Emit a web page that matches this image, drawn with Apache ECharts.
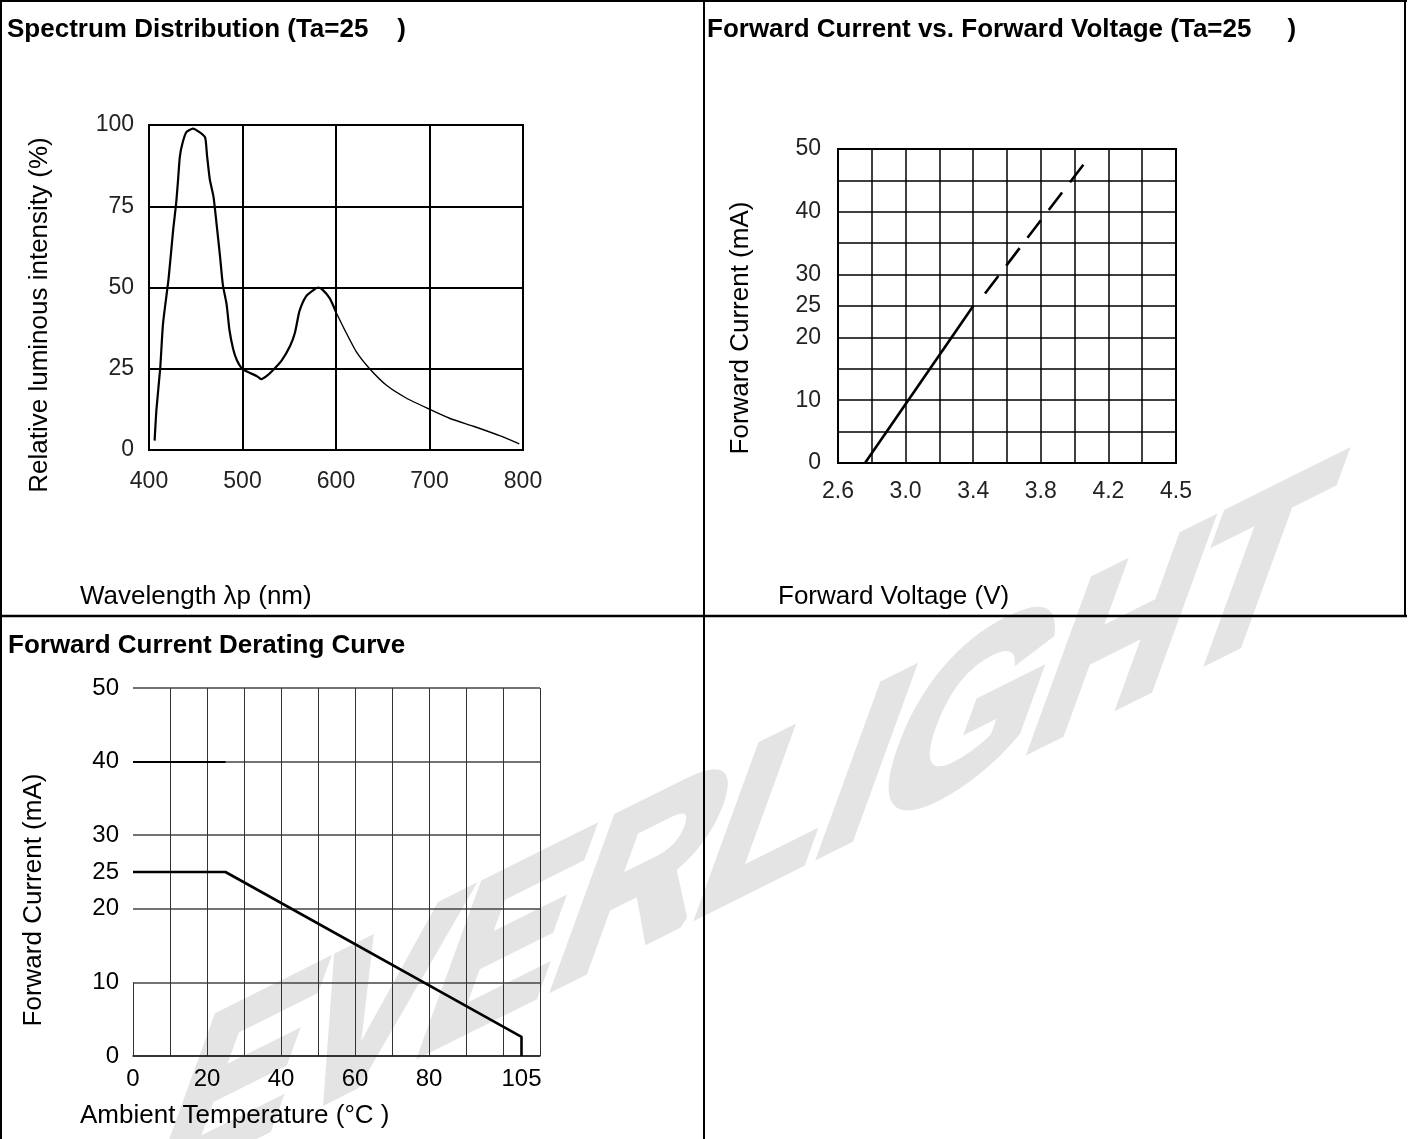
<!DOCTYPE html>
<html><head><meta charset="utf-8">
<script src="https://cdn.jsdelivr.net/npm/echarts@6/dist/echarts.min.js"></script>
<style>html,body{margin:0;padding:0;background:#fff}#c{width:1409px;height:1139px}</style>
</head><body><div id="c"></div><script>
// ---- data ----
const spectrumWavelength = [406, 408, 412, 415, 421, 426, 429, 431, 433, 436, 440, 447, 454, 460, 462, 465, 469, 472, 476, 479, 483, 486, 490, 494, 499, 504, 515, 520, 526, 533, 542, 551, 556, 561, 568, 576, 581, 586, 593, 600, 611, 622, 636, 654, 675, 698, 722, 747, 775, 796];
const spectrumIntensity = [2.9, 12.6, 25.2, 38.9, 52.9, 68.2, 75.8, 82.8, 90.3, 94.6, 97.8, 98.9, 97.8, 96.2, 90.8, 83.3, 77.9, 70.3, 59.5, 50.8, 44.8, 37.0, 31.1, 27.6, 25.2, 24.2, 22.8, 21.8, 22.8, 24.7, 27.6, 32.1, 36.0, 42.8, 47.3, 49.2, 50.0, 49.2, 46.8, 42.4, 36.0, 30.1, 25.0, 19.9, 16.0, 12.8, 9.7, 7.3, 4.4, 1.9];

const ivSolidVoltage = [2.76, 3.40];
const ivSolidCurrent = [0, 25];
const ivDashVoltage = [3.47, 4.08];
const ivDashCurrent = [27, 48.5];
const ivXTickValues = [2.6, 3.0, 3.4, 3.8, 4.2, 4.6];
const ivXTickLabels = ['2.6', '3.0', '3.4', '3.8', '4.2', '4.5'];
const ivYTickValues = [0, 10, 20, 25, 30, 40, 50];

const deratingTemp = [0, 25, 105, 105];
const deratingCurrent = [25, 25, 2.6, 0];
const deratingXTickValues = [0, 20, 40, 60, 80, 105];
const deratingYTickValues = [0, 10, 20, 25, 30, 40, 50];

// ---- helpers ----
const FONT = "'Liberation Sans', Arial, sans-serif";
function pairs(xs, ys) { return xs.map((x, i) => [x, ys[i]]); }
const spectrumPoints = pairs(spectrumWavelength, spectrumIntensity);
const splitIdx = spectrumWavelength.indexOf(600);

function shearedText(x, y, alphaDeg, betaDeg, a, b, fontSize, text, color, strokeW) {
  const al = alphaDeg * Math.PI / 180, be = betaDeg * Math.PI / 180;
  const p = a * Math.cos(al), r = -a * Math.sin(al);
  const q = -b * Math.cos(be), s = b * Math.sin(be);
  const E = (p + s) / 2, F = (p - s) / 2, G = (r + q) / 2, H = (r - q) / 2;
  const Q = Math.hypot(E, H), R = Math.hypot(F, G);
  const sx = Q + R, sy = Q - R;
  const a1 = Math.atan2(G, F), a2 = Math.atan2(H, E);
  const theta = (a2 - a1) / 2, phi = (a2 + a1) / 2;
  return {
    type: 'group', x: x, y: y, rotation: -phi, scaleX: sx, scaleY: sy, z: 1, silent: true,
    children: [{
      type: 'text', rotation: -theta, z: 1,
      style: { text: text, fontSize: fontSize, fontWeight: 'bold', fontFamily: FONT, fill: color,
        stroke: color, lineWidth: strokeW, lineJoin: 'miter', align: 'left', verticalAlign: 'bottom' }
    }]
  };
}

function label(text, x, y) {
  return {
    type: 'text', x: x, y: y, z: 10,
    style: { text: text, fontSize: 26, fontFamily: FONT, fill: '#000', align: 'left', verticalAlign: 'middle' }
  };
}
function vlabel(text, x, y) {
  return {
    type: 'text', x: x, y: y, rotation: Math.PI / 2, z: 10,
    style: { text: text, fontSize: 26, fontFamily: FONT, fill: '#000', align: 'center', verticalAlign: 'middle' }
  };
}
function hline(x1, x2, y, w) { return { type: 'line', z: 10, shape: { x1: x1, y1: y, x2: x2, y2: y }, style: { stroke: '#000', lineWidth: w } }; }
function vline(x, y1, y2, w) { return { type: 'line', z: 10, shape: { x1: x, y1: y1, x2: x, y2: y2 }, style: { stroke: '#000', lineWidth: w } }; }

const tickFont = { fontFamily: FONT, color: '#222', fontSize: 23 };

const chart = echarts.init(document.getElementById('c'), null, { renderer: 'canvas' });
const option = {
  animation: false,
  backgroundColor: '#fff',
  title: [
    { text: 'Spectrum Distribution (Ta=25    )', left: 7, top: 17, padding: 0, textStyle: { fontSize: 26, fontWeight: 'bold', fontFamily: FONT, color: '#000' } },
    { text: 'Forward Current vs. Forward Voltage (Ta=25     )', left: 707, top: 17, padding: 0, textStyle: { fontSize: 26, fontWeight: 'bold', fontFamily: FONT, color: '#000' } },
    { text: 'Forward Current Derating Curve', left: 8, top: 633, padding: 0, textStyle: { fontSize: 26, fontWeight: 'bold', fontFamily: FONT, color: '#000' } }
  ],
  grid: [
    { left: 149, top: 125, width: 374, height: 325, show: true, borderColor: '#000', borderWidth: 2, backgroundColor: 'transparent', z: 4, outerBoundsMode: 'none' },
    { left: 838, top: 149, width: 338, height: 314, show: true, borderColor: '#000', borderWidth: 2, backgroundColor: 'transparent', z: 4, outerBoundsMode: 'none' },
    { left: 133, top: 688, width: 407, height: 368, show: false, z: 4, outerBoundsMode: 'none' }
  ],
  xAxis: [
    { type: 'value', gridIndex: 0, min: 400, max: 800, interval: 100, z: 5,
      axisLine: { show: true, lineStyle: { color: '#000', width: 2 } }, axisTick: { show: false },
      splitLine: { show: true, lineStyle: { color: '#000', width: 2 } },
      axisLabel: Object.assign({ margin: 20 }, tickFont) },
    { type: 'value', gridIndex: 1, min: 2.6, max: 4.6, interval: 0.2, z: 5,
      axisLine: { show: true, lineStyle: { color: '#000', width: 2 } }, axisTick: { show: false },
      splitLine: { show: true, lineStyle: { color: '#000', width: 1.5 } },
      axisLabel: Object.assign({ margin: 17, customValues: ivXTickValues,
        formatter: v => { const i = ivXTickValues.findIndex(t => Math.abs(t - v) < 1e-6); return i >= 0 ? ivXTickLabels[i] : ''; } }, tickFont) },
    { type: 'value', gridIndex: 2, min: 0, max: 110, interval: 10, z: 5,
      axisLine: { show: true, lineStyle: { color: '#222', width: 1.5 } }, axisTick: { show: false },
      splitLine: { show: true, showMinLine: false, lineStyle: { color: '#333', width: 1 } },
      axisLabel: { margin: 11, customValues: deratingXTickValues, fontFamily: FONT, color: '#000', fontSize: 24 } }
  ],
  yAxis: [
    { type: 'value', gridIndex: 0, min: 0, max: 100, interval: 25, z: 5,
      axisLine: { show: true, lineStyle: { color: '#000', width: 2 } }, axisTick: { show: false },
      splitLine: { show: true, lineStyle: { color: '#000', width: 2 } },
      axisLabel: Object.assign({ margin: 15 }, tickFont) },
    { type: 'value', gridIndex: 1, min: 0, max: 50, interval: 5, z: 5,
      axisLine: { show: true, lineStyle: { color: '#000', width: 2 } }, axisTick: { show: false },
      splitLine: { show: true, lineStyle: { color: '#000', width: 1.5 } },
      axisLabel: Object.assign({ margin: 17, customValues: ivYTickValues }, tickFont) },
    { type: 'value', gridIndex: 2, min: 0, max: 50, interval: 5, z: 5,
      axisLine: { show: false }, axisTick: { show: false },
      splitLine: { show: true, lineStyle: { color: ['#444', 'rgba(0,0,0,0)'], width: 1.5 } },
      axisLabel: { margin: 14, customValues: deratingYTickValues, fontFamily: FONT, color: '#000', fontSize: 24 } }
  ],
  series: [
    { type: 'line', xAxisIndex: 0, yAxisIndex: 0, data: spectrumPoints.slice(0, splitIdx + 1), showSymbol: false, smooth: 0.2, z: 6,
      lineStyle: { color: '#000', width: 2.2 } },
    { type: 'line', xAxisIndex: 0, yAxisIndex: 0, data: spectrumPoints.slice(splitIdx), showSymbol: false, smooth: 0.2, z: 6,
      lineStyle: { color: '#000', width: 1.4 } },
    { type: 'line', xAxisIndex: 1, yAxisIndex: 1, data: pairs(ivSolidVoltage, ivSolidCurrent), showSymbol: false, z: 6,
      lineStyle: { color: '#000', width: 2.6 } },
    { type: 'line', xAxisIndex: 1, yAxisIndex: 1, data: pairs(ivDashVoltage, ivDashCurrent), showSymbol: false, z: 6,
      lineStyle: { color: '#000', width: 2.6, type: [22, 13] } },
    { type: 'line', xAxisIndex: 2, yAxisIndex: 2, data: pairs(deratingTemp, deratingCurrent), showSymbol: false, z: 6,
      lineStyle: { color: '#000', width: 2.6 },
      markLine: { silent: true, symbol: ['none', 'none'], label: { show: false }, animation: false,
        lineStyle: { color: '#333', width: 1, type: 'solid' },
        data: [
          [{ coord: [0, 0] }, { coord: [0, 10] }],
          [{ coord: [0, 40], lineStyle: { color: '#000', width: 2, type: 'solid' } }, { coord: [25, 40] }]
        ] } }
  ],
  graphic: [
    shearedText(123, 1246, 26.5, 70, 1.115, 1.3, 200, 'EVERLIGHT', '#e4e4e4', 9),
    { type: 'rect', z: 2, shape: { x: 712, y: 118, width: 501, height: 395 }, style: { fill: '#fff' } },
    // axis names
    vlabel('Relative luminous intensity (%)', 40, 315),
    label('Wavelength λp (nm)', 80, 597),
    vlabel('Forward Current (mA)', 741, 328),
    label('Forward Voltage (V)', 778, 597),
    vlabel('Forward Current (mA)', 34, 900),
    label('Ambient Temperature (°C )', 80, 1116),
    // table borders
    hline(0, 1407, 1, 2),
    vline(1, 0, 1139, 2),
    vline(704, 0, 1139, 2),
    hline(0, 1407, 616, 2.5),
    vline(1405, 0, 617, 2)
  ]
};
chart.setOption(option);
</script></body></html>
